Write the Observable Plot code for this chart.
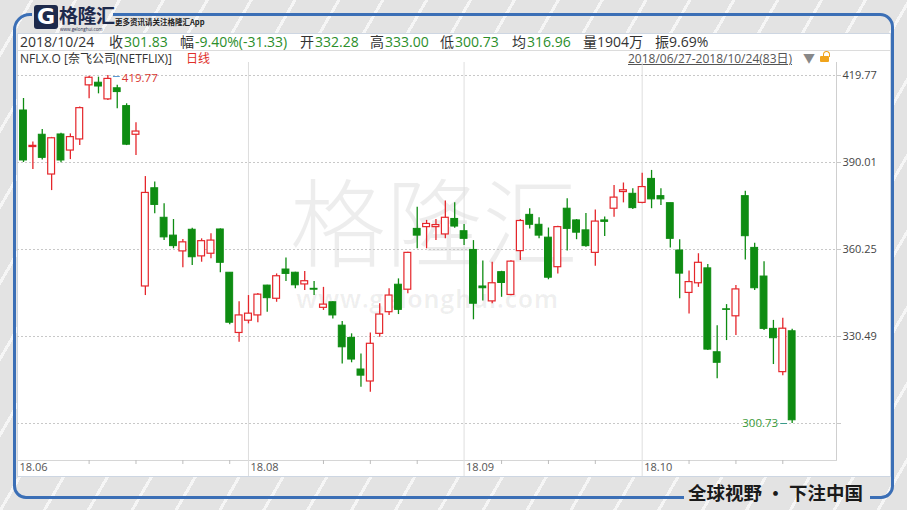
<!DOCTYPE html>
<html><head><meta charset="utf-8">
<script src="https://cdn.jsdelivr.net/npm/d3@7"></script>
<script src="https://cdn.jsdelivr.net/npm/@observablehq/plot@0.6"></script>
<style>
html,body{margin:0;padding:0}
body{width:907px;height:510px;overflow:hidden;position:relative;font-family:"Open Sans","Noto Sans CJK SC",sans-serif;
background:repeating-linear-gradient(120deg,#e3e3e3 0 26px,#f6f6f6 26px 29px,#e3e3e3 29px 38px);}
.abs{position:absolute;white-space:nowrap}
#panel{left:17px;top:33px;width:872px;height:442px;background:#fff;border:1px solid #cdd6e2}
#sep{left:18px;top:50px;width:872px;height:1px;background:#dcdcdc}
.hd{top:34px;font-size:14px;line-height:16px;color:#333}
.hv{color:#2b8e2b}
.nf{top:52px;font-size:12px;line-height:13px;color:#333}
#wm1{left:290px;top:170px;font-family:"Noto Sans CJK SC",sans-serif;font-size:96px;line-height:96px;height:96px;color:rgba(0,0,0,0.07);font-weight:300}
#wm2{left:296px;top:285px;font-size:25px;line-height:26px;font-weight:700;color:rgba(0,0,0,0.06);letter-spacing:0.5px}
#chart{left:17px;top:62px}
#logo{left:34px;top:5px;width:24px;height:24px;background:#1d2a4c;border-radius:3px;color:#fff;font:900 22px/24px "DejaVu Sans",sans-serif;text-align:center}
#brand{left:59px;top:5px;font-family:"Noto Sans CJK SC",sans-serif;font-weight:700;font-size:19px;line-height:19px;color:#1d2a4c;letter-spacing:-0.5px}
#brandurl{left:60px;top:26.5px;font-size:4.5px;line-height:4.5px;color:#1d2a4c}
#slogan{left:115px;top:17px;font-family:"Noto Sans CJK SC",sans-serif;font-weight:700;font-size:7.5px;line-height:10px;color:#222}
#foot{left:688px;top:480px;font-family:"Noto Sans CJK SC",sans-serif;font-weight:700;font-size:18.5px;line-height:24px;color:#1a1a1a}
</style></head>
<body>
<svg class="abs" style="left:0;top:0" width="907" height="510">
<path d="M113,14.5 H880 A12.5,12.5 0 0 1 892.5,27 V486 A11.5,11.5 0 0 1 881,497.5 H870 M684,497.5 H26 A11.5,11.5 0 0 1 14.5,486 V30 A15.5,15.5 0 0 1 30,14.5 H32" fill="none" stroke="#3b6fb6" stroke-width="3"/>
</svg>
<div id="logo" class="abs">G</div>
<div id="brand" class="abs">格隆汇</div>
<div id="brandurl" class="abs">www.gelonghui.com</div>
<div id="slogan" class="abs">更多资讯请关注格隆汇App</div>
<div id="panel" class="abs"></div>
<div id="sep" class="abs"></div>
<div id="wm1" class="abs">格隆汇</div>
<div id="wm2" class="abs">www.gelonghui.com</div>
<div id="header"></div>
<div id="chart" class="abs"></div>
<div id="foot" class="abs">全球视野 • 下注中国</div>
<script>
// ---- data ----
const tradeDate = "2018/10/24";
const headerLabels = ["收","幅","开","高","低","均","量","振"];
const headerValues = ["301.83","-9.40%(-31.33)","332.28","333.00","300.73","316.96","1904万","9.69%"];
const headerGreen = [true,true,true,true,true,true,false,false];
const symbolText = "NFLX.O [奈飞公司(NETFLIX)]";
const periodText = "日线";
const rangeText = "2018/06/27-2018/10/24(83日)";

const open  = [407.8,395.3,399.5,385.9,399.6,394.1,397.9,416.4,417.3,411.6,415.4,409.3,399.5,347.6,381.2,371.1,365.0,359.6,367.0,357.9,358.8,367.1,352.3,331.7,335.9,337.7,347.9,343.4,353.4,352.3,348.3,346.8,340.3,342.2,334.2,330.0,319.2,315.1,331.4,338.8,348.2,346.5,367.3,367.9,367.9,365.4,370.7,366.5,360.1,347.6,342.5,352.5,344.7,359.7,372.1,368.7,364.3,354.2,374.2,370.2,366.8,359.1,370.2,374.2,379.9,379.3,376.2,384.4,378.5,376.1,359.9,345.4,348.7,353.8,325.1,339.8,337.4,378.5,360.8,351.0,333.1,318.3,332.28];
const high  = [411.9,397.0,401.3,398.6,400.0,399.8,409.0,419.5,419.2,419.77,416.4,410.1,403.6,385.2,383.3,375.9,370.5,363.7,367.5,363.9,365.6,367.3,352.3,342.4,344.5,345.2,348.0,351.9,357.3,352.5,352.7,349.3,347.3,342.4,335.6,331.4,324.5,331.7,341.7,346.8,350.2,359.3,374.7,370.2,370.5,376.8,376.2,368.8,363.3,356.3,355.9,352.8,356.4,370.5,374.2,371.1,367.6,368.2,377.6,370.5,372.6,373.8,371.4,382.1,383.0,381.0,386.3,387.3,381.0,376.1,363.6,352.9,358.8,355.1,334.2,341.4,347.9,380.2,362.4,356.1,336.0,336.7,333.00];
const low   = [390.0,387.6,390.9,380.4,389.9,391.0,395.8,411.8,413.5,411.2,408.4,395.8,392.4,344.5,372.5,363.3,360.5,354.0,354.8,355.9,357.1,352.3,334.5,328.5,334.8,335.2,338.8,342.2,349.3,346.8,346.2,344.5,339.4,336.5,321.1,321.5,313.1,311.4,330.2,337.7,338.0,345.1,360.5,360.5,363.3,363.9,367.5,361.6,336.2,342.6,341.7,343.9,344.4,356.5,367.3,363.9,349.9,351.9,359.7,363.6,361.0,354.5,364.7,371.3,376.2,373.9,375.9,374.2,375.3,360.8,343.4,338.2,347.3,325.7,316.0,329.1,330.8,356.7,346.2,332.5,320.9,317.1,300.73];
const close = [390.7,395.7,391.6,398.3,390.7,398.7,408.6,419.0,416.0,418.6,414.1,396.1,400.6,379.6,375.5,364.4,361.4,362.7,357.6,363.1,363.3,355.7,335.2,337.7,338.3,344.8,343.6,351.1,351.9,348.0,349.4,346.5,341.4,337.7,326.8,322.6,317.1,328.0,338.0,344.5,339.6,359.1,365.0,369.0,368.6,371.1,368.1,363.9,341.7,347.0,348.7,348.8,356.1,370.0,368.7,365.0,350.6,367.9,367.3,366.0,361.4,369.8,369.7,378.0,380.5,374.4,381.6,377.4,377.4,363.9,352.0,349.1,355.7,326.0,321.5,339.6,346.6,364.8,347.0,333.1,329.9,333.16,301.83];

const priceTicks = [300.73,330.49,360.25,390.01,419.77];
const monthTickIndex = [0,24,47,66];
const monthTickLabels = ["18.06","18.08","18.09","18.10"];
const weekTickIndex = [7,12,17,22,32,37,42,51,56,61,71,76,81];

// ---- header ----
const headerX = {date:20, pairs:[[109,124],[180,195],[300,315],[370,385],[440,455],[512,527],[583,597],[655,669]]};
const hdr = document.getElementById("header");
let html = `<div class="abs hd" style="left:${headerX.date}px">${tradeDate}</div>`;
headerLabels.forEach((l,k)=>{
  html += `<div class="abs hd" style="left:${headerX.pairs[k][0]}px">${l}</div>`;
  html += `<div class="abs hd ${headerGreen[k]?"hv":""}" style="left:${headerX.pairs[k][1]}px">${headerValues[k]}</div>`;
});
html += `<div class="abs nf" style="left:20px">${symbolText}</div>`;
html += `<div class="abs nf" style="left:186px;color:#e0302a">${periodText}</div>`;
html += `<div class="abs nf" style="left:628px;color:#555;text-decoration:underline">${rangeText}</div>`;
html += `<div class="abs nf" style="left:803px;color:#888;font-size:12px">▼</div>`;
html += `<div class="abs" style="left:820px;top:56px;width:9px;height:6px;background:#f0a41c;border-radius:1px"></div>`;
html += `<div class="abs" style="left:823px;top:51px;width:5px;height:5px;border:1.5px solid #f0a41c;border-bottom:none;border-radius:4px 4px 0 0"></div>`;
hdr.innerHTML = html;

// ---- chart ----
const candles = open.map((o,i)=>({i, o, h:high[i], l:low[i], c:close[i], up: close[i] >= open[i]}));
const idx = candles.map(d=>d.i);
const RED = "#e5262b", GREEN = "#0e8c12";
const hiC = candles.reduce((a,b)=> b.h>a.h?b:a);
const loC = candles.reduce((a,b)=> b.l<a.l?b:a);
const step = 9.374, a0 = 6 - step/2;

const chart = Plot.plot({
  width: 873, height: 414,
  marginLeft: 0, marginRight: 54, marginTop: 0, marginBottom: 16,
  style: {background:"transparent", fontFamily:"'Open Sans', sans-serif", fontSize:"11px", color:"#444"},
  x: {type:"band", domain: idx, range:[a0, a0 + step*idx.length], paddingInner:0.27, paddingOuter:0.135, align:0.5, axis:null, label:null},
  y: {domain:[priceTicks[0], priceTicks[priceTicks.length-1]], range:[361, 13], axis:null, label:null},
  marks: [
    Plot.gridY(priceTicks, {stroke:"#c8c8c8", strokeOpacity:1, strokeDasharray:"2,2"}),
    Plot.gridX(monthTickIndex.slice(1), {stroke:"#dedede", strokeOpacity:1}),
    Plot.frame({anchor:"right", stroke:"#cfcfcf"}),
    Plot.frame({anchor:"bottom", stroke:"#d6d6d6"}),
    Plot.axisY(priceTicks, {anchor:"right", label:null, tickSize:4, tickPadding:2, stroke:"#c8c8c8",
      tickFormat: d => d === priceTicks[0] ? "" : d.toFixed(2), fill:"#444", fontSize:11}),
    Plot.axisX(monthTickIndex.slice(1), {anchor:"bottom", label:null, tickSize:16, stroke:"#dedede", tickFormat:()=>"" }),
    Plot.axisX(weekTickIndex, {anchor:"bottom", label:null, tickSize:4, stroke:"#bdbdbd", tickFormat:()=>"" }),
    Plot.axisX(monthTickIndex.slice(0,1), {anchor:"bottom", label:null, tickSize:0, tickPadding:3, textAnchor:"start", dx:-4,
      tickFormat: i => monthTickLabels[monthTickIndex.indexOf(i)], fill:"#555", fontSize:11}),
    Plot.axisX(monthTickIndex.slice(1), {anchor:"bottom", label:null, tickSize:0, tickPadding:3, textAnchor:"start", dx:2,
      tickFormat: i => monthTickLabels[monthTickIndex.indexOf(i)], fill:"#555", fontSize:11}),
    Plot.ruleX(candles, {x:"i", y1:"l", y2:"h", stroke: d => d.up ? RED : GREEN, strokeWidth:1.3}),
    Plot.barY(candles.filter(d=>d.up), {x:"i", y1:"o", y2:"c", fill:"white", stroke:RED, strokeWidth:1.2}),
    Plot.barY(candles.filter(d=>!d.up), {x:"i", y1:"o", y2:"c", fill:GREEN, stroke:GREEN, strokeWidth:1}),
    Plot.tickY([hiC], {x:"i", y:"h", dx:9, dy:1, stroke:"#5b9bd5", strokeWidth:1}),
    Plot.text([hiC], {x:"i", y:"h", text: d => d.h.toFixed(2), dx:14, dy:3, textAnchor:"start", fill:"#d9362f", fontSize:11.5}),
    Plot.tickY([loC], {x:"i", y:"l", dx:-8, stroke:"#3a9a8a", strokeWidth:1}),
    Plot.text([loC], {x:"i", y:"l", text: d => d.l.toFixed(2), dx:-14, dy:0, textAnchor:"end", fill:"#3a9a3a", fontSize:11.5})
  ]
});
document.getElementById("chart").appendChild(chart);
</script>
</body></html>
